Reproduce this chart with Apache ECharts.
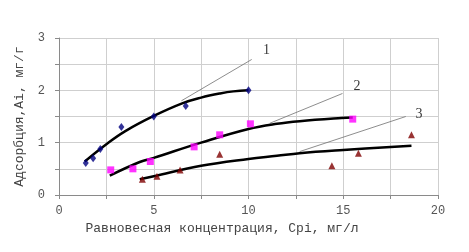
<!DOCTYPE html>
<html>
<head>
<meta charset="utf-8">
<script src="https://cdn.jsdelivr.net/npm/echarts@6/dist/echarts.min.js"></script>
<style>html,body{margin:0;padding:0;background:#fff;}#c{width:469px;height:252px;}</style>
</head>
<body>
<div id="c"></div>
<script>
// Measured points
var s1 = [[1.41,0.61],[1.80,0.70],[2.18,0.88],[3.29,1.30],[5.0,1.50],[6.69,1.70],[10.0,2.0]];
var s2 = [[2.73,0.48],[3.9,0.50],[4.82,0.64],[7.13,0.92],[8.48,1.15],[10.1,1.36],[15.5,1.45]];
var s3 = [[4.4,0.30],[5.17,0.36],[6.39,0.48],[8.48,0.78],[14.4,0.56],[15.8,0.80],[18.6,1.15]];
// Fitted curves
var c1 = [[1.36,0.64],[2.5,0.97],[3.5,1.22],[5,1.51],[6.5,1.75],[7.5,1.86],[8.5,1.94],[9.2,1.98],[10,2.0]];
var c2 = [[2.68,0.37],[4.26,0.63],[5,0.71],[7.5,1.0],[10,1.26],[11.5,1.36],[12.7,1.41],[14.9,1.47],[15.5,1.48]];
var c3 = [[4.26,0.30],[5,0.36],[7.5,0.56],[10,0.69],[11.5,0.75],[12.7,0.80],[15,0.86],[18.6,0.94]];
// Leader lines and curve labels
var lead1 = [[6.46,1.80],[10.17,2.59]];
var lead2 = [[11.12,1.37],[14.96,1.94]];
var lead3 = [[12.7,0.83],[18.3,1.50]];
var curveLabels = [[10.95,2.76,'1'],[15.73,2.07,'2'],[19.0,1.55,'3']];
var xTitle = 'Равновесная концентрация, Срі, мг/л';
var yTitle = 'Адсорбция,Ai, мг/г';

var chart = echarts.init(document.getElementById('c'));
var mono = 'Liberation Mono';
function axisCommon(){
  return {
    axisLine:{show:true,lineStyle:{color:'#8a8a8a',width:1}},
    axisTick:{show:true,length:4,inside:false,lineStyle:{color:'#8a8a8a'}},
    minorTick:{show:true,splitNumber:2,length:4,lineStyle:{color:'#8a8a8a'}},
    splitLine:{show:true,lineStyle:{color:'#cfcfcf',width:1}},
    minorSplitLine:{show:true,lineStyle:{color:'#cfcfcf',width:1}}
  };
}
var xa = axisCommon();
Object.assign(xa,{type:'value',min:0,max:20,interval:5,
  name:xTitle,nameLocation:'middle',nameGap:22,
  nameTextStyle:{fontFamily:mono,fontSize:13,color:'#444',padding:[0,53,0,0]},
  axisLabel:{fontFamily:mono,fontSize:12,color:'#555',margin:10}});
var ya = axisCommon();
Object.assign(ya,{type:'value',min:0,max:3,interval:1,
  name:yTitle,nameLocation:'middle',nameGap:33,
  nameTextStyle:{fontFamily:mono,fontSize:13,color:'#444'},
  axisLabel:{fontFamily:mono,fontSize:12,color:'#555',margin:14}});

function curve(d){return {type:'line',data:d,smooth:0.4,symbol:'none',lineStyle:{color:'#000',width:2.5},z:3};}
function lead(d){return {type:'line',data:d,symbol:'none',lineStyle:{color:'#707070',width:0.8},z:2};}

chart.setOption({
  animation:false,
  grid:{left:59,top:38,right:31,bottom:57},
  xAxis:xa, yAxis:ya,
  series:[
    lead(lead1),lead(lead2),lead(lead3),
    curve(c1),curve(c2),curve(c3),
    {type:'scatter',data:s1,symbol:'diamond',symbolSize:[6,8],itemStyle:{color:'#000080'},z:4},
    {type:'scatter',data:s2,symbol:'rect',symbolSize:7,itemStyle:{color:'#ff00ff'},z:4},
    {type:'scatter',data:s3,symbol:'triangle',symbolSize:7,itemStyle:{color:'#800000'},z:4},
    {type:'scatter',data:curveLabels,symbolSize:0,z:5,
      label:{show:true,position:'inside',formatter:function(p){return p.value[2];},
        fontFamily:'Liberation Serif',fontSize:14,color:'#000'}}
  ]
});
</script>
</body>
</html>
